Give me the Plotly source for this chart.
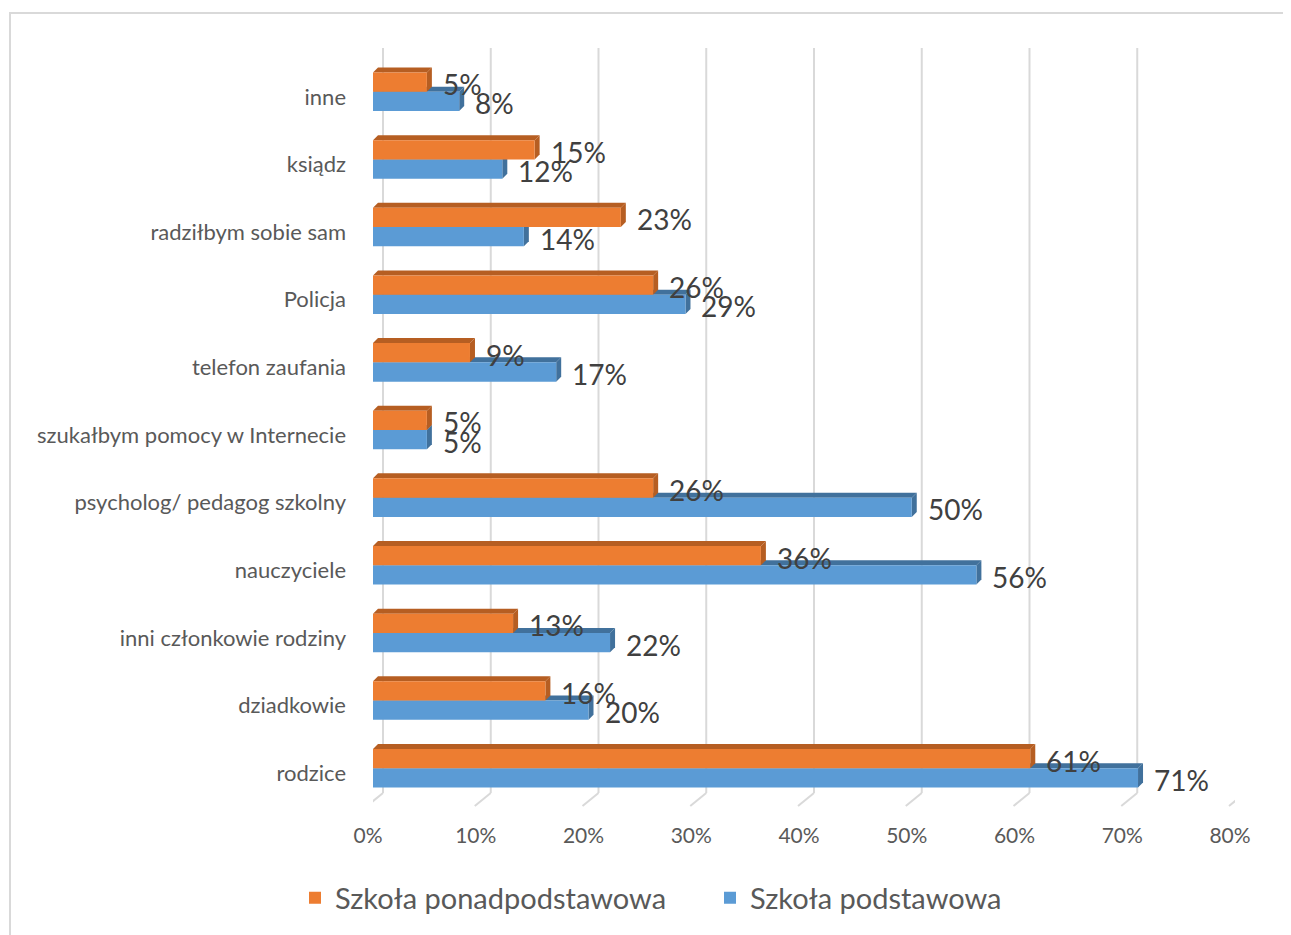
import plotly.graph_objects as go

categories = ["rodzice", "dziadkowie", "inni członkowie rodziny", "nauczyciele",
              "psycholog/ pedagog szkolny", "szukałbym pomocy w Internecie",
              "telefon zaufania", "Policja", "radziłbym sobie sam", "ksiądz", "inne"]
ponadpodstawowa = [61, 16, 13, 36, 26, 5, 9, 26, 23, 15, 5]
podstawowa = [71, 20, 22, 56, 50, 5, 17, 29, 14, 12, 8]
x_ticks = [0, 10, 20, 30, 40, 50, 60, 70, 80]

ORANGE, ORANGE_DARK = "#ED7D31", "#B65E22"
BLUE, BLUE_DARK = "#5B9BD5", "#41719C"
GRID = "#D9D9D9"
FONT = "Lato"

# page is shifted by the 8px body margin
OFF = 8
W, H = 1291 - OFF, 935 - OFF
plot_l, plot_r, plot_t, plot_b = 373, 1235, 58, 802   # page pixels
L, T = plot_l - OFF, plot_t - OFF
R, B = W - (plot_r - OFF), H - (plot_b - OFF)
pw, ph = plot_r - plot_l, plot_b - plot_t


def px(xp):   # page x -> paper
    return (xp - plot_l) / pw


def py(yp):   # page y -> paper
    return (plot_b - yp) / ph


bw = 0.285                     # bar thickness in category units
ppx = pw / 80.0                # pixels per percent
ppy = ph / 11.0                # pixels per category
dx, dy = 5 / ppx, 5 / ppy      # pseudo-3D depth

pos = list(range(len(categories)))

fig = go.Figure()

# back gridlines with floor edge
for t in x_ticks:
    xb = t + 10 / ppx
    fig.add_shape(type="line", xref="x", yref="paper", x0=xb, x1=xb,
                  y0=py(793), y1=py(48), line=dict(color=GRID, width=2), layer="below")
    fig.add_shape(type="line", xref="x", yref="paper", x0=xb, x1=t - 6 / ppx,
                  y0=py(793), y1=py(806), line=dict(color=GRID, width=2), layer="below")

fig.add_trace(go.Bar(y=pos, x=podstawowa, orientation="h", name="Szkoła podstawowa",
                     marker=dict(color=BLUE, line=dict(width=0)),
                     offset=-bw, width=bw, legendrank=2, hoverinfo="x"))
fig.add_trace(go.Bar(y=pos, x=ponadpodstawowa, orientation="h", name="Szkoła ponadpodstawowa",
                     marker=dict(color=ORANGE, line=dict(width=0)),
                     offset=0, width=bw, legendrank=1, hoverinfo="x"))


def box3d(v, y0, y1, dark):
    top = f"M 0,{y1} L {dx},{y1 + dy} L {v + dx},{y1 + dy} L {v},{y1} Z"
    side = f"M {v},{y0} L {v},{y1} L {v + dx},{y1 + dy} L {v + dx},{y0 + dy} Z"
    for p in (top, side):
        fig.add_shape(type="path", path=p, xref="x", yref="y", layer="below",
                      fillcolor=dark, line=dict(width=0))


for i in pos:
    box3d(podstawowa[i], i - bw, i, BLUE_DARK)
    box3d(ponadpodstawowa[i], i, i + bw, ORANGE_DARK)
    fig.add_annotation(x=ponadpodstawowa[i], y=i + bw / 2, text=f"{ponadpodstawowa[i]}%",
                       xanchor="left", yanchor="middle", xshift=14, yshift=-2, showarrow=False,
                       font=dict(family=FONT, size=28, color="#404040"))
    fig.add_annotation(x=podstawowa[i], y=i - bw / 2, text=f"{podstawowa[i]}%",
                       xanchor="left", yanchor="middle", xshift=14, yshift=-2, showarrow=False,
                       font=dict(family=FONT, size=28, color="#404040"))

# chart border
fig.add_shape(type="rect", xref="paper", yref="paper",
              x0=px(10), x1=px(1310), y0=py(960), y1=py(13),
              line=dict(color=GRID, width=2), layer="below")

fig.update_layout(
    width=W, height=H,
    margin=dict(l=L, r=R, t=T, b=B),
    paper_bgcolor="white", plot_bgcolor="white",
    barmode="overlay",
    font=dict(family=FONT, color="#595959"),
    xaxis=dict(range=[0, 80], tickvals=x_ticks, ticktext=[f"{t}%" for t in x_ticks],
               showgrid=False, zeroline=False, showline=False, ticks="",
               ticklabelstandoff=19, ticklabelshift=-5,
               tickfont=dict(size=21, color="#595959")),
    yaxis=dict(range=[-0.5, 10.5], tickvals=pos, ticktext=categories,
               showgrid=False, zeroline=False, showline=False, ticks="",
               ticklabelstandoff=26, ticklabelshift=5,
               tickfont=dict(size=22, color="#595959")),
    legend=dict(orientation="h", x=px(710), xanchor="center",
                y=py(898), yanchor="middle",
                font=dict(size=29, color="#595959"), itemwidth=30,
                entrywidth=370, entrywidthmode="pixels"),
    showlegend=True,
)

fig.write_html("out.html")
